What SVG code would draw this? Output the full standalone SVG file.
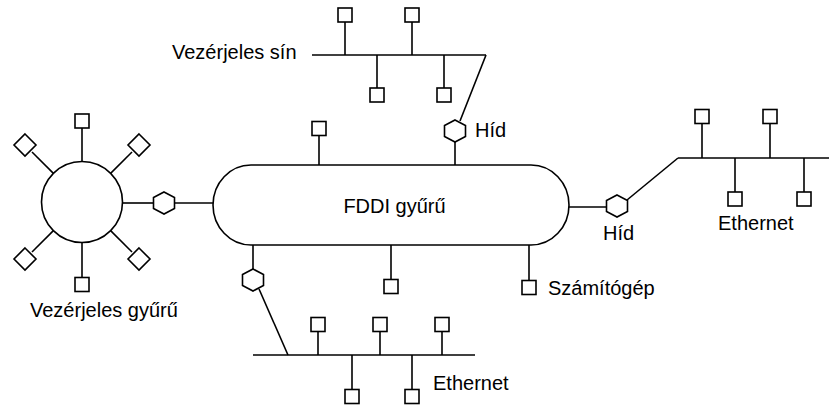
<svg xmlns="http://www.w3.org/2000/svg" xmlns:xlink="http://www.w3.org/1999/xlink" width="829" height="408" viewBox="0 0 829 408">
  <defs>
    <style>
      .ln { stroke: #000; stroke-width: 1.6; fill: none; }
      .sh { stroke: #000; stroke-width: 1.6; fill: #fff; }
      .lbl { font-family: "Liberation Sans", Arial, sans-serif; font-size: 20px; fill: #000; }
    </style>
    <rect id="sq" class="sh" x="-7" y="-7" width="14" height="14"/>
    <polygon id="dia" class="sh" points="0,-11 11,0 0,11 -11,0"/>
    <polygon id="hex" class="sh" points="0,-11 10.5,-5.5 10.5,5.5 0,11 -10.5,5.5 -10.5,-5.5"/>
  </defs>
  <rect width="829" height="408" fill="#fff"/>

  <g id="connectors">
    <!-- token bus -->
    <line class="ln" x1="312" y1="55" x2="486" y2="55"/>
    <line class="ln" x1="486" y1="55" x2="460" y2="121"/>
    <line class="ln" x1="345" y1="22" x2="345" y2="55"/>
    <line class="ln" x1="412" y1="22" x2="412" y2="55"/>
    <line class="ln" x1="377" y1="55" x2="377" y2="88"/>
    <line class="ln" x1="444" y1="55" x2="444" y2="88"/>
    <line class="ln" x1="455" y1="142" x2="455" y2="165"/>
    <line class="ln" x1="319" y1="136" x2="319" y2="165"/>
    <!-- token ring -->
    <line class="ln" x1="82" y1="128" x2="82" y2="161.5"/>
    <line class="ln" x1="82" y1="242.5" x2="82" y2="277"/>
    <line class="ln" x1="53.4" y1="173.4" x2="32" y2="152"/>
    <line class="ln" x1="110.6" y1="173.4" x2="132" y2="152"/>
    <line class="ln" x1="53.4" y1="230.6" x2="32" y2="252"/>
    <line class="ln" x1="110.6" y1="230.6" x2="132" y2="252"/>
    <line class="ln" x1="122.5" y1="203" x2="153.5" y2="203"/>
    <line class="ln" x1="174.5" y1="203" x2="213" y2="203"/>
    <!-- right ethernet -->
    <line class="ln" x1="569" y1="207" x2="606.5" y2="207"/>
    <line class="ln" x1="627" y1="200" x2="678" y2="158"/>
    <line class="ln" x1="678" y1="158" x2="829" y2="158"/>
    <line class="ln" x1="702" y1="124" x2="702" y2="158"/>
    <line class="ln" x1="770" y1="124" x2="770" y2="158"/>
    <line class="ln" x1="735" y1="158" x2="735" y2="192"/>
    <line class="ln" x1="804" y1="158" x2="804" y2="192"/>
    <!-- bottom ethernet -->
    <line class="ln" x1="253" y1="245" x2="253" y2="269"/>
    <line class="ln" x1="259" y1="289" x2="288" y2="355"/>
    <line class="ln" x1="253" y1="355" x2="475" y2="355"/>
    <line class="ln" x1="318" y1="332" x2="318" y2="355"/>
    <line class="ln" x1="380" y1="332" x2="380" y2="355"/>
    <line class="ln" x1="442" y1="332" x2="442" y2="355"/>
    <line class="ln" x1="352" y1="355" x2="352" y2="389"/>
    <line class="ln" x1="412" y1="355" x2="412" y2="389"/>
    <!-- FDDI hosts -->
    <line class="ln" x1="391" y1="245" x2="391" y2="279"/>
    <line class="ln" x1="529" y1="245" x2="529" y2="280"/>
  </g>

  <g id="token-bus">
    <text class="lbl" x="172" y="59">Vezérjeles sín</text>
  </g>
  <g id="bus-host-1"><use xlink:href="#sq" x="345" y="15"/></g>
  <g id="bus-host-2"><use xlink:href="#sq" x="412" y="15"/></g>
  <g id="bus-host-3"><use xlink:href="#sq" x="377" y="95"/></g>
  <g id="bus-host-4"><use xlink:href="#sq" x="444" y="95"/></g>
  <g id="bridge-top">
    <use xlink:href="#hex" x="455" y="131"/>
    <text class="lbl" x="475" y="137">Híd</text>
  </g>

  <g id="fddi-ring">
    <rect class="sh" x="213" y="165" width="356" height="80" rx="38" ry="40"/>
    <text class="lbl" x="394.5" y="213" text-anchor="middle">FDDI gyűrű</text>
  </g>
  <g id="fddi-host-1"><use xlink:href="#sq" x="319" y="128.5"/></g>
  <g id="fddi-host-2"><use xlink:href="#sq" x="391" y="286.5"/></g>
  <g id="fddi-host-3">
    <use xlink:href="#sq" x="529" y="287.5"/>
    <text class="lbl" x="548" y="295">Számítógép</text>
  </g>

  <g id="token-ring">
    <circle class="sh" cx="82" cy="202" r="40.5"/>
    <text class="lbl" x="30" y="317">Vezérjeles gyűrű</text>
  </g>
  <g id="ring-host-top"><use xlink:href="#sq" x="82" y="121"/></g>
  <g id="ring-host-bottom"><use xlink:href="#sq" x="82" y="284.5"/></g>
  <g id="ring-host-ul"><use xlink:href="#dia" x="25" y="145"/></g>
  <g id="ring-host-ur"><use xlink:href="#dia" x="139" y="145"/></g>
  <g id="ring-host-ll"><use xlink:href="#dia" x="25" y="259"/></g>
  <g id="ring-host-lr"><use xlink:href="#dia" x="139" y="259"/></g>
  <g id="bridge-left"><use xlink:href="#hex" x="164" y="203"/></g>

  <g id="bridge-right">
    <use xlink:href="#hex" x="617" y="206"/>
    <text class="lbl" x="603" y="240">Híd</text>
  </g>
  <g id="ethernet-right">
    <text class="lbl" x="718" y="230">Ethernet</text>
  </g>
  <g id="eth-r-host-1"><use xlink:href="#sq" x="702" y="116.5"/></g>
  <g id="eth-r-host-2"><use xlink:href="#sq" x="770" y="116.5"/></g>
  <g id="eth-r-host-3"><use xlink:href="#sq" x="735" y="199"/></g>
  <g id="eth-r-host-4"><use xlink:href="#sq" x="804" y="199"/></g>

  <g id="bridge-bottom"><use xlink:href="#hex" x="253" y="280"/></g>
  <g id="ethernet-bottom">
    <text class="lbl" x="433" y="390">Ethernet</text>
  </g>
  <g id="eth-b-host-1"><use xlink:href="#sq" x="318" y="324.5"/></g>
  <g id="eth-b-host-2"><use xlink:href="#sq" x="380" y="324.5"/></g>
  <g id="eth-b-host-3"><use xlink:href="#sq" x="442" y="324.5"/></g>
  <g id="eth-b-host-4"><use xlink:href="#sq" x="352" y="396.5"/></g>
  <g id="eth-b-host-5"><use xlink:href="#sq" x="412" y="396.5"/></g>
</svg>
